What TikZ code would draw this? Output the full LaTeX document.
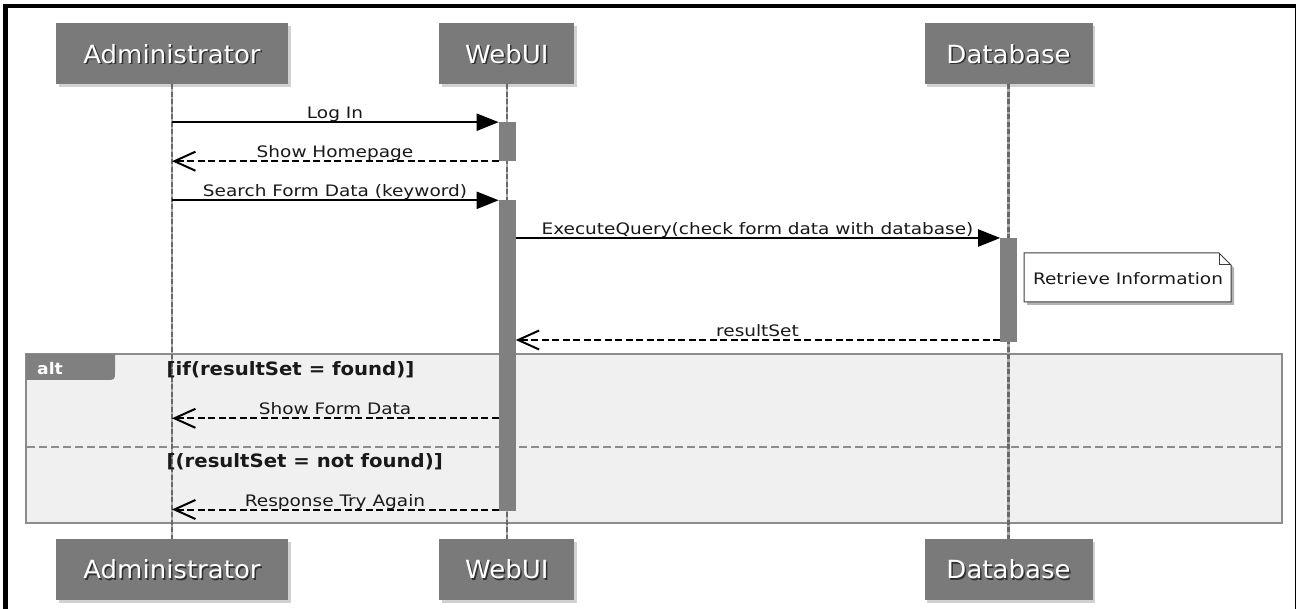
\documentclass[tikz,border=0pt]{standalone}
\usepackage{fontspec}
\setmainfont{DejaVu Sans}
\newfontfamily\msgfont[FakeStretch=1.17]{DejaVu Sans}
\newfontfamily\partfont[FakeStretch=1.04]{DejaVu Sans}
\newfontfamily\grdfont[FakeStretch=1.07]{DejaVu Sans}
\usetikzlibrary{arrows.meta,shadows}
\definecolor{partgray}{RGB}{122,122,122}
\definecolor{actgray}{RGB}{128,128,128}
\definecolor{altfill}{RGB}{240,240,240}
\definecolor{altborder}{RGB}{140,140,140}
\definecolor{lifegray}{RGB}{105,105,105}
\definecolor{lifelight}{RGB}{170,170,170}
\definecolor{notedraw}{RGB}{60,60,60}
\begin{document}
\begin{tikzpicture}[x=1pt,y=-1pt,
  pbox/.style={rectangle, fill=partgray, minimum width=#1, minimum height=61pt,
    inner sep=0pt, outer sep=0pt,
    drop shadow={shadow xshift=2.5pt, shadow yshift=-2.5pt, opacity=0.18, fill=black}},
  ptext/.style={text=white, font=\partfont\fontsize{25}{29}\selectfont, inner sep=0pt},
  pshade/.style={text=black, opacity=0.6, font=\partfont\fontsize{25}{29}\selectfont, inner sep=0pt},
  actbar/.style={rectangle, fill=actgray, minimum width=17pt, minimum height=#1,
    inner sep=0pt, outer sep=0pt},
  lifeback/.style={draw=lifelight, line width=2.5pt},
  lifedash/.style={draw=lifegray, line width=2.5pt, dash pattern=on 5pt off 2.5pt},
  msgtext/.style={font=\msgfont\fontsize{15.8}{18}\selectfont, inner sep=0pt,
    anchor=base, text=black!90},
  syncmsg/.style={draw=black, line width=2pt, -{Triangle[length=22pt,width=17pt]}},
  retmsg/.style={draw=black, line width=2pt, dash pattern=on 7pt off 3.5pt,
    -{Straight Barb[length=21pt,width=19pt]}},
  altbox/.style={fill=altfill, draw=altborder, line width=2pt},
  divider/.style={draw=altborder, line width=2pt, dash pattern=on 8pt off 4pt},
  grdtext/.style={font=\grdfont\bfseries\fontsize{18.4}{21}\selectfont, inner sep=0pt,
    anchor=base west, text=black!90},
  alttext/.style={font=\grdfont\bfseries\fontsize{16}{19}\selectfont, inner sep=0pt,
    anchor=base, text=white},
  notebox/.style={fill=white, draw=notedraw, line width=1pt,
    drop shadow={shadow xshift=3pt, shadow yshift=-3pt, opacity=0.3, fill=black}},
  notefold/.style={draw=notedraw, line width=1pt}
]
\useasboundingbox (0,0) rectangle (1296,609);
\fill[white] (0,0) rectangle (1296,609);
% outer frame
\fill[black] (3,4) rectangle (8,609);
\fill[black] (3,4) rectangle (1296,8);
\fill[black] (1294.5,4) rectangle (1296,609);

% participant boxes
\node[pbox=232pt] (adminT) at (172,54) {};
\node[pbox=135pt] (webT) at (506.8,54) {};
\node[pbox=168pt] (dbT) at (1008.5,54) {};
\node[pbox=232pt] (adminB) at (172,569.5) {};
\node[pbox=135pt] (webB) at (506.8,569.5) {};
\node[pbox=168pt] (dbB) at (1008.5,569.5) {};

% alt frame
\path[altbox] (26,354) rectangle (1282,523);
\draw[divider] (27,446.5) -- (1281,446.5);

% lifelines
\draw[lifeback] (adminT.south) -- (adminB.north);
\draw[lifedash] (adminT.south) -- (adminB.north);
\draw[lifeback] (webT.south) -- (webB.north);
\draw[lifedash] (webT.south) -- (webB.north);
\draw[lifeback] (dbT.south) -- (dbB.north);
\draw[lifedash] (dbT.south) -- (dbB.north);

% activation bars
\node[actbar=39pt] (act1) at (507.2,141.7) {};
\node[actbar=311pt] (act2) at (507.2,355.8) {};
\node[actbar=104pt] (act3) at (1008.7,290) {};

% note
\path[notebox] (1024,253) -- (1219,253) -- (1231,265) -- (1231,302) -- (1024,302) -- cycle;
\draw[notefold] (1219,253) -- (1219,265) -- (1231,265);
\node[msgtext] (noteT) at (1128,285) {Retrieve Information};

% message end points
\coordinate (m1a) at (172,122.2);
\coordinate (m2b) at (172,161.2);
\coordinate (m3a) at (172,200.3);
\coordinate (m4a) at (515.7,238);
\coordinate (m5a) at (1000.2,340);
\coordinate (m5b) at (515.7,340);
\coordinate (m6a) at (498.7,418.3);
\coordinate (m6b) at (172,418.3);
\coordinate (m7a) at (498.7,509.5);
\coordinate (m7b) at (172,509.5);

% messages
\draw[syncmsg] (m1a) -- (act1.north west);
\node[msgtext] (l1) at (335,119) {Log In};
\draw[retmsg] (act1.south west) -- (m2b);
\node[msgtext] (l2) at (335,158) {Show Homepage};
\draw[syncmsg] (m3a) -- (act2.north west);
\node[msgtext] (l3) at (335,197) {Search Form Data (keyword)};
\draw[syncmsg] (m4a) -- (act3.north west);
\node[msgtext] (l4) at (757.5,235) {ExecuteQuery(check form data with database)};
\draw[retmsg] (m5a) -- (m5b);
\node[msgtext] (l5) at (757.5,337) {resultSet};
\draw[retmsg] (m6a) -- (m6b);
\node[msgtext] (l6) at (335,414.5) {Show Form Data};
\draw[retmsg] (m7a) -- (m7b);
\node[msgtext] (l7) at (335,506) {Response Try Again};

% alt tab and guards
\fill[actgray] (26,354) -- (115,354) -- (115,371) .. controls (115,380) .. (106,380) -- (26,380) -- cycle;
\node[alttext] (altlbl) at (50,375) {alt};
\node[grdtext] (g1) at (166.5,376) {[if(resultSet = found)]};
\node[grdtext] (g2) at (166.5,467.5) {[(resultSet = not found)]};

% participant names (shadow + text)
\node[pshade] (adminTs) at ([shift={(1.5pt,-1.5pt)}]adminT.center) {Administrator};
\node[ptext] (adminTt) at (adminT.center) {Administrator};
\node[pshade] (webTs) at ([shift={(1.5pt,-1.5pt)}]webT.center) {WebUI};
\node[ptext] (webTt) at (webT.center) {WebUI};
\node[pshade] (dbTs) at ([shift={(1.5pt,-1.5pt)}]dbT.center) {Database};
\node[ptext] (dbTt) at (dbT.center) {Database};
\node[pshade] (adminBs) at ([shift={(1.5pt,-1.5pt)}]adminB.center) {Administrator};
\node[ptext] (adminBt) at (adminB.center) {Administrator};
\node[pshade] (webBs) at ([shift={(1.5pt,-1.5pt)}]webB.center) {WebUI};
\node[ptext] (webBt) at (webB.center) {WebUI};
\node[pshade] (dbBs) at ([shift={(1.5pt,-1.5pt)}]dbB.center) {Database};
\node[ptext] (dbBt) at (dbB.center) {Database};
\end{tikzpicture}
\end{document}
